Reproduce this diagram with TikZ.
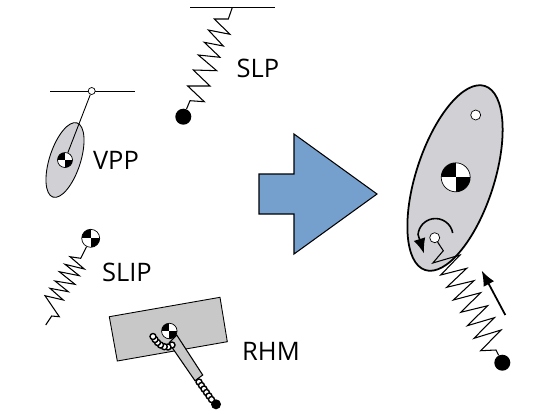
\documentclass[tikz,border=0pt]{standalone}
\usepackage{fontspec}
\setmainfont{Open Sans}
\usetikzlibrary{shapes.geometric,arrows.meta}
\definecolor{bodygray}{HTML}{D0D0D5}
\definecolor{rectgray}{HTML}{C8C8C8}
\definecolor{blockblue}{HTML}{759FCC}

\tikzset{
    label text/.style={inner sep=0pt, font=\fontsize{14.5}{16}\selectfont},
    ball/.style={circle, fill=black, inner sep=0pt},
    hinge/.style={circle, draw, fill=white, inner sep=0pt},
    com/.style={
        circle, draw, fill=white, inner sep=0pt,
        path picture={
            \fill[black] (path picture bounding box.center) rectangle (path picture bounding box.north west);
            \fill[black] (path picture bounding box.center) rectangle (path picture bounding box.south east);
        }
    },
    segment/.style={draw, ellipse, inner sep=0pt, fill=bodygray, rotate=72},
    spring/.style={line width=0.6pt, line join=miter},
    bead/.style={fill=white, draw=black, line width=0.8pt},
    big tip/.style={-{Latex[length=0.3cm,width=0.24cm]}}
}

\begin{document}
\begin{tikzpicture}[x=0.02cm,y=-0.02cm,>=latex]
\useasboundingbox (0,0) rectangle (536,413);

% SLP
\coordinate (slp_left) at (190,7.5);
\coordinate (slp_right) at (275,7.5);
\coordinate (slp_top) at (232.3,7.5);
\node[ball, minimum size=0.32cm] (slp_ball) at (183.3,116.7) {};
\node[label text] (slp_label) at (258,68) {SLP};
\draw[line width=0.5pt] (slp_left) -- (slp_right);
\draw[spring] (slp_top) -- (228.3,19) -- (214.3,19) -- (230,34.3) -- (208.3,30) -- (223.3,46)
    -- (204.3,42.3) -- (220,57.3) -- (198.3,55) -- (216.7,70.7) -- (193.3,70) -- (210,86)
    -- (187.7,86) -- (204.3,101.7) -- (190,100.7) -- (slp_ball);

% VPP
\coordinate (vpp_left) at (50,91);
\coordinate (vpp_right) at (135,91);
\node[segment, minimum width=1.56cm, minimum height=0.62cm, line width=0.5pt] (vpp_body) at (65,160) {};
\node[com, minimum size=0.3cm] (vpp_com) at (65,160) {};
\draw[line width=0.5pt] (vpp_left) -- (vpp_right);
\node[hinge, minimum size=0.14cm] (vpp_pivot) at (91.7,91) {};
\draw[line width=0.5pt] (vpp_pivot) -- (vpp_com);
\node[label text] (vpp_label) at (116,160) {VPP};

% SLIP
\node[com, minimum size=0.36cm] (slip_com) at (90.7,238.3) {};
\coordinate (slip_end) at (45.7,325);
\node[label text] (slip_label) at (127,272) {SLIP};
\draw[spring] (slip_com) -- (80.7,258.3) -- (70,256.7) -- (84.3,269) -- (65,264.3)
    -- (79.3,275.7) -- (59.3,271.7) -- (75,284.3) -- (55,281) -- (68.3,291.7) -- (50,288.3)
    -- (63.3,300) -- (45,295.7) -- (59.3,316.7) -- (51.7,316) -- (slip_end);

% RHM
\coordinate (rhm_a) at (109.3,316.7);
\coordinate (rhm_b) at (220,297.3);
\coordinate (rhm_c) at (227.3,341.7);
\coordinate (rhm_d) at (117.3,361);
\draw[fill=rectgray, line width=0.5pt] (rhm_a) -- (rhm_b) -- (rhm_c) -- (rhm_d) -- cycle;
\draw[fill=rectgray, line width=0.6pt] (176.7,335) -- (202.7,375) -- (195,380.7) -- (169,343) -- cycle;
\node[com, minimum size=0.31cm] (rhm_com) at (169.3,331) {};
\node[ball, minimum size=0.2cm] (rhm_ball) at (216,404.3) {};
\node[label text] (rhm_label) at (271,351) {RHM};
\foreach \bx/\by in {172/345,168/347,164.3/346.7,160.5/345,157.5/342.5,155/339.5,153/336.5,
    199/382,201.5/385.5,204/389,206.5/392.5,209/396,211.5/399.5}
    \filldraw[bead] (\bx,\by) circle [radius=3];

% block arrow
\draw[fill=blockblue, line width=0.6pt] (259,174) -- (294,174) -- (294,134) -- (377,194)
    -- (294,254) -- (294,214) -- (259,214) -- cycle;

% full model
\node[segment, minimum width=3.87cm, minimum height=1.56cm, line width=1pt] (full_body) at (455,178) {};
\node[com, minimum size=0.58cm] (full_com) at (455.7,177.3) {};
\node[hinge, minimum size=0.2cm] (full_top) at (475.7,115) {};
\node[hinge, minimum size=0.2cm] (full_pivot) at (434.7,237.7) {};
\node[ball, minimum size=0.32cm] (full_ball) at (502.3,362.7) {};
\draw[spring] (full_pivot) -- (443.3,250.7) -- (432.8,263) -- (460,255) -- (440.7,275) -- (466.7,268.3)
    -- (446.7,287.3) -- (474,280.7) -- (453.3,300) -- (480.7,292.7) -- (460.7,312.3) -- (487.7,305.7)
    -- (467.3,325.7) -- (494.3,317.7) -- (474,338.3) -- (501,330) -- (480.7,350.7) -- (496,350) -- (full_ball);
\draw[big tip, line width=0.9pt] (452.7,233) arc (-10:-175:17.5) -- (424,253.5);
\coordinate (push_start) at (505.3,315);
\coordinate (push_end) at (481.7,270.7);
\draw[big tip, line width=1pt] (push_start) -- (push_end);

\end{tikzpicture}
\end{document}
